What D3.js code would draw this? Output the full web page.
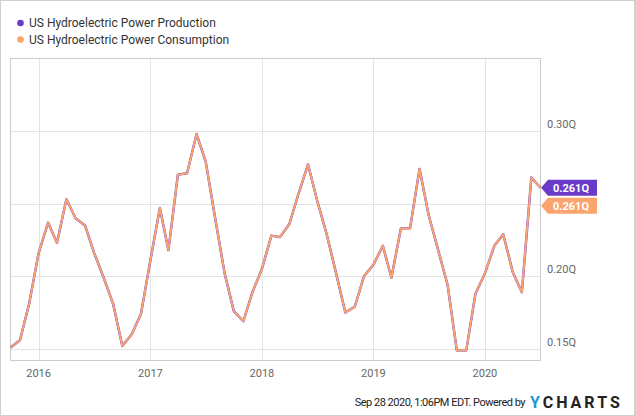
<!DOCTYPE html>
<html>
<head>
<meta charset="utf-8">
<script src="https://cdn.jsdelivr.net/npm/d3@7"></script>
<style>
    body { margin: 0; background: #fff; }
    text { font-family: Roboto, "DejaVu Sans", sans-serif; }
</style>
</head>
<body>
<script>
// Monthly values, Oct 2015 .. Jul 2020 (quadrillion BTU)
var startMonth = "2015-10";
var production = [
    0.151, 0.156, 0.181,
    0.216, 0.237, 0.223, 0.253, 0.240, 0.235, 0.216, 0.199, 0.181, 0.152,
    0.160, 0.174,
    0.211, 0.247, 0.218, 0.270, 0.271, 0.298, 0.279, 0.240, 0.202, 0.176,
    0.169, 0.189,
    0.205, 0.228, 0.227, 0.236, 0.257, 0.277, 0.252, 0.229, 0.202, 0.175,
    0.179, 0.200,
    0.208, 0.221, 0.199, 0.233, 0.233, 0.274, 0.242, 0.218, 0.194, 0.149,
    0.149, 0.188,
    0.202, 0.221, 0.229, 0.203, 0.189, 0.268, 0.261
];
var consumption = [
    0.151, 0.156, 0.181,
    0.216, 0.237, 0.223, 0.253, 0.240, 0.235, 0.216, 0.199, 0.181, 0.152,
    0.160, 0.174,
    0.211, 0.247, 0.218, 0.270, 0.271, 0.298, 0.279, 0.240, 0.202, 0.176,
    0.169, 0.189,
    0.205, 0.228, 0.227, 0.236, 0.257, 0.277, 0.252, 0.229, 0.202, 0.175,
    0.179, 0.200,
    0.208, 0.221, 0.199, 0.233, 0.233, 0.274, 0.242, 0.218, 0.194, 0.149,
    0.149, 0.188,
    0.202, 0.221, 0.229, 0.203, 0.189, 0.268, 0.261
];
var seriesNames = ["US Hydroelectric Power Production",
                   "US Hydroelectric Power Consumption"];
var seriesColors = ["#6a3bc8", "#fca46d"];
var yTicks = [0.15, 0.20, 0.25, 0.30];
var xTickYears = [2016, 2017, 2018, 2019, 2020];

var W = 635, H = 416;
var plot = {left: 10.5, right: 540.5, top: 58.5, bottom: 360.5};

var svg = d3.select("body").append("svg")
    .attr("width", W)
    .attr("height", H);

// outer frame
svg.append("rect")
    .attr("x", 0.5).attr("y", 0.5)
    .attr("width", W - 1).attr("height", H - 1)
    .attr("fill", "none")
    .attr("stroke", "#cfcfcf");

var parseMonth = d3.timeParse("%Y-%m");
var t0 = parseMonth(startMonth);
var dates = production.map(function (d, i) {
    return d3.timeMonth.offset(t0, i);
});

var x = d3.scaleTime()
    .domain([dates[0], dates[dates.length - 1]])
    .range([plot.left, plot.right]);
var y = d3.scaleLinear()
    .domain([0.142, 0.35])
    .range([plot.bottom, plot.top]);

// grid
var grid = svg.append("g");
grid.selectAll("line.h")
    .data(yTicks)
    .enter().append("line")
    .attr("x1", plot.left).attr("x2", plot.right)
    .attr("y1", function (d) { return Math.round(y(d)) + 0.5; })
    .attr("y2", function (d) { return Math.round(y(d)) + 0.5; })
    .attr("stroke", "#e3e3e3");
grid.selectAll("line.v")
    .data(xTickYears)
    .enter().append("line")
    .attr("x1", function (d) { return Math.round(x(new Date(d, 0, 1))) + 0.5; })
    .attr("x2", function (d) { return Math.round(x(new Date(d, 0, 1))) + 0.5; })
    .attr("y1", plot.top).attr("y2", plot.bottom)
    .attr("stroke", "#e3e3e3");

svg.append("rect")
    .attr("x", plot.left).attr("y", plot.top)
    .attr("width", plot.right - plot.left)
    .attr("height", plot.bottom - plot.top)
    .attr("fill", "none")
    .attr("stroke", "#cccccc");

// last value flags sit on the right axis; tick labels under them are hidden
var lastVals = [production[production.length - 1],
                consumption[consumption.length - 1]];
var flagTop = y(lastVals[0]) - 8, flagBottom = y(lastVals[1]) + 18 + 8;

svg.selectAll("text.ylab")
    .data(yTicks.filter(function (d) {
        var ty = y(d) - 2;
        return ty < flagTop || ty - 9 > flagBottom;
    }))
    .enter().append("text")
    .attr("class", "ylab")
    .attr("x", 547)
    .attr("y", function (d) { return y(d) - 3; })
    .attr("font-size", "11px")
    .attr("fill", "#666")
    .text(function (d) { return d3.format(".2f")(d) + "Q"; });

svg.selectAll("text.xlab")
    .data(xTickYears)
    .enter().append("text")
    .attr("class", "xlab")
    .attr("x", function (d) { return x(new Date(d, 0, 1)); })
    .attr("y", 377)
    .attr("text-anchor", "middle")
    .attr("font-size", "11px")
    .attr("fill", "#666")
    .text(function (d) { return d; });

// lines
var line = d3.line()
    .x(function (d, i) { return x(dates[i]); })
    .y(function (d) { return y(d); });

svg.append("path")
    .datum(production)
    .attr("d", line)
    .attr("fill", "none")
    .attr("stroke", seriesColors[0])
    .attr("stroke-width", 2.4)
    .attr("stroke-linejoin", "round");
svg.append("path")
    .datum(consumption)
    .attr("d", line)
    .attr("fill", "none")
    .attr("stroke", seriesColors[1])
    .attr("stroke-width", 2)
    .attr("stroke-linejoin", "round");

lastVals.forEach(function (v, i) {
    var cy = y(v) + i * 18;
    var g = svg.append("g");
    g.append("path")
        .attr("d", "M541," + cy +
              " L548," + (cy - 8) +
              " L597," + (cy - 8) +
              " L597," + (cy + 8) +
              " L548," + (cy + 8) + " Z")
        .attr("fill", seriesColors[i]);
    g.append("text")
        .attr("x", 571)
        .attr("y", cy + 4)
        .attr("text-anchor", "middle")
        .attr("font-size", "11px")
        .attr("font-weight", "bold")
        .attr("fill", "#fff")
        .text(d3.format(".3f")(v) + "Q");
});

// legend
var legend = svg.append("g");
seriesNames.forEach(function (name, i) {
    legend.append("circle")
        .attr("cx", 20.5)
        .attr("cy", 23 + i * 16.5)
        .attr("r", 3.3)
        .attr("fill", seriesColors[i]);
    legend.append("text")
        .attr("x", 29)
        .attr("y", 27 + i * 16.5)
        .attr("font-size", "12px")
        .attr("fill", "#333")
        .text(name);
});

// footer
svg.append("text")
    .attr("x", 525)
    .attr("y", 406)
    .attr("text-anchor", "end")
    .attr("font-size", "11px")
    .attr("letter-spacing", "-0.5px")
    .attr("fill", "#222")
    .text("Sep 28 2020, 1:06PM EDT.  Powered by");

var logo = svg.append("text")
    .attr("x", 530)
    .attr("y", 408)
    .attr("font-size", "16px")
    .attr("font-weight", "bold")
    .attr("letter-spacing", "3px");
logo.append("tspan").attr("fill", "#1c9ad6").text("Y");
logo.append("tspan").attr("fill", "#222").text("CHARTS");
</script>
</body>
</html>
